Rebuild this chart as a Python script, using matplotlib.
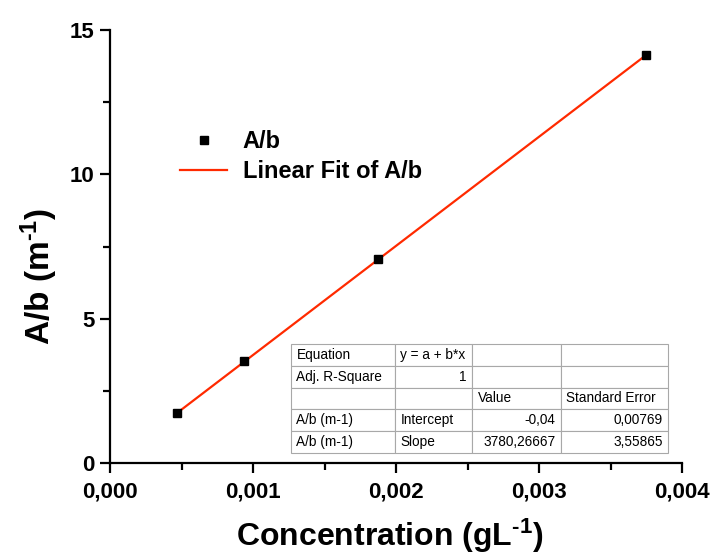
import matplotlib
matplotlib.use("Agg")
import matplotlib.pyplot as plt
from matplotlib.table import Table
from matplotlib.ticker import MultipleLocator, FuncFormatter

# ---- data ----
conc = [0.000469, 0.000938, 0.001875, 0.00375]
ab = [1.74, 3.52, 7.06, 14.14]
fit_x = [0.000469, 0.00375]
fit_y = [1.733, 14.136]

table_rows = [
    ["Equation", "y = a + b*x", "", ""],
    ["Adj. R-Square", "1", "", ""],
    ["", "", "Value", "Standard Error"],
    ["A/b (m-1)", "Intercept", "-0,04", "0,00769"],
    ["A/b (m-1)", "Slope", "3780,26667", "3,55865"],
]
table_align = [
    ["left", "left", "left", "left"],
    ["left", "right", "left", "left"],
    ["left", "left", "left", "left"],
    ["left", "left", "right", "right"],
    ["left", "left", "right", "right"],
]

plt.rcParams['font.family'] = ['Liberation Sans', 'DejaVu Sans']
plt.rcParams['mathtext.fontset'] = 'custom'
plt.rcParams['mathtext.rm'] = 'Liberation Sans:bold'
plt.rcParams['mathtext.bf'] = 'Liberation Sans:bold'
plt.rcParams['mathtext.it'] = 'Liberation Sans:bold'

fig = plt.figure(figsize=(7.13, 5.57), dpi=100)
ax = fig.add_axes([110/713, 1-463/557, (682-110)/713, (463-30)/557])

ax.plot(fit_x, fit_y, color='#ff2a00', lw=1.6, label='Linear Fit of A/b', zorder=2)
ax.plot(conc, ab, 's', color='black', ms=6, label='A/b', zorder=3)

ax.set_xlim(0, 0.004)
ax.set_ylim(0, 15)
for s in ['top', 'right']:
    ax.spines[s].set_visible(False)
for s in ['left', 'bottom']:
    ax.spines[s].set_linewidth(1.6)
ax.xaxis.set_major_locator(MultipleLocator(0.001))
ax.xaxis.set_minor_locator(MultipleLocator(0.0005))
ax.yaxis.set_major_locator(MultipleLocator(5))
ax.yaxis.set_minor_locator(MultipleLocator(2.5))
ax.xaxis.set_major_formatter(FuncFormatter(lambda v, p: f"{v:.3f}".replace('.', ',')))
ax.yaxis.set_major_formatter(FuncFormatter(lambda v, p: f"{v:.0f}"))
ax.tick_params(which='major', direction='out', length=7, width=1.6, labelsize=16)
ax.tick_params(which='minor', direction='out', length=5, width=1.6)
ax.tick_params(axis='x', which='major', pad=6)
ax.tick_params(axis='y', which='major', pad=4)
for lab in ax.get_xticklabels() + ax.get_yticklabels():
    lab.set_fontweight('bold')

ax.set_xlabel(r'Concentration (gL$^{\text{-1}}$)', fontsize=23, fontweight='bold')
ax.xaxis.set_label_coords(0.49, -0.124)
ax.set_ylabel(r'A/b (m$^{\text{-1}}$)', fontsize=24, fontweight='bold')
ax.yaxis.set_label_coords(-0.087, 0.432)

handles, labels = ax.get_legend_handles_labels()
leg = ax.legend(handles[::-1], labels[::-1], loc='upper left',
                bbox_to_anchor=((180-110)/572, (463-130)/433),
                frameon=False, prop={'weight': 'bold', 'size': 17}, handlelength=2.0,
                labelspacing=0.3, handletextpad=0.65, borderpad=0, borderaxespad=0)

# ---- table ----
tab = Table(ax, bbox=[(291-110)/572, (463-453)/433, (668-291)/572, (453-344)/433])
col_w = [104, 77, 89, 107]
tot = sum(col_w)
nrows = len(table_rows)
for r in range(nrows):
    for c in range(4):
        cell = tab.add_cell(r, c, width=col_w[c]/tot, height=1/nrows,
                            text=table_rows[r][c], loc=table_align[r][c],
                            facecolor='white', edgecolor='#a8a8a8')
        cell.PAD = 5.5 / col_w[c]
        cell.set_linewidth(0.8)
        cell.get_text().set_fontsize(9.8)
tab.auto_set_font_size(False)
tab.set_zorder(5)
ax.add_table(tab)

fig.savefig('out.png', dpi=100)
